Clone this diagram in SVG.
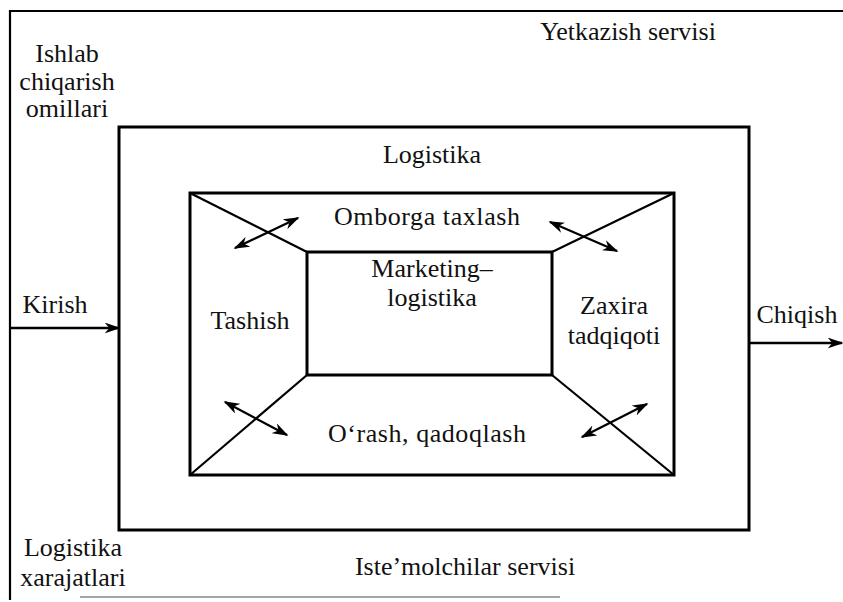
<svg xmlns="http://www.w3.org/2000/svg" width="843" height="602" viewBox="0 0 843 602">
<style>
text{font-family:'Liberation Serif','DejaVu Serif','Times New Roman',serif;font-size:26px;fill:#111;text-anchor:middle}
.box{fill:none;stroke:#000;stroke-width:3}
.ln{fill:none;stroke:#000;stroke-width:2.2}
.arr{fill:none;stroke:#000;stroke-width:2.2;marker-start:url(#ah);marker-end:url(#ah)}
.io{fill:none;stroke:#000;stroke-width:2.5;marker-end:url(#ah)}
</style>
<defs>
<marker id="ah" viewBox="0 0 10 10" refX="9" refY="5" markerWidth="16" markerHeight="11" markerUnits="userSpaceOnUse" orient="auto-start-reverse" preserveAspectRatio="none">
<path d="M0,0 L10,5 L0,10 L3,5 Z" fill="#000"/>
</marker>
</defs>
<g id="frame">
<path class="ln" d="M843,11 L10,11 L10,600"/>
<path d="M80,597 L560,597" stroke="#888" stroke-width="1.5" fill="none"/>
</g>
<g id="logistika">
<rect class="box" x="119" y="127" width="630" height="403"/>
<text x="432" y="163">Logistika</text>
</g>
<g id="inner">
<rect class="box" x="190" y="193" width="484" height="282"/>
</g>
<g id="marketing">
<rect class="box" x="307" y="252" width="245" height="123"/>
<text x="432" y="277">Marketing–</text>
<text x="432" y="306">logistika</text>
</g>
<g id="omborga"><text x="427" y="225" textLength="186">Omborga taxlash</text></g>
<g id="tashish"><text x="250" y="329">Tashish</text></g>
<g id="zaxira"><text x="614" y="314">Zaxira</text><text x="614" y="344">tadqiqoti</text></g>
<g id="orash"><text x="427" y="442" textLength="198">O‘rash, qadoqlash</text></g>
<g id="ishlab"><text x="67" y="62">Ishlab</text><text x="67" y="90">chiqarish</text><text x="67" y="117">omillari</text></g>
<g id="yetkazish"><text x="628" y="40">Yetkazish servisi</text></g>
<g id="kirish"><text x="55" y="313">Kirish</text></g>
<g id="chiqish"><text x="797" y="323">Chiqish</text></g>
<g id="xarajat"><text x="73" y="556">Logistika</text><text x="73" y="586">xarajatlari</text></g>
<g id="istemol"><text x="465" y="575">Iste’molchilar servisi</text></g>
<g id="connectors">
<path class="ln" d="M190,193 L307,252"/>
<path class="ln" d="M674,193 L552,252"/>
<path class="ln" d="M190,475 L307,375"/>
<path class="ln" d="M674,475 L552,375"/>
<path class="arr" d="M235,248 L298,218"/>
<path class="arr" d="M550,222 L617,251"/>
<path class="arr" d="M225,402 L287,435"/>
<path class="arr" d="M582,437 L647,404"/>
<path class="io" d="M10,328 L119,328"/>
<path class="io" d="M749,343 L842,343"/>
</g>
</svg>
